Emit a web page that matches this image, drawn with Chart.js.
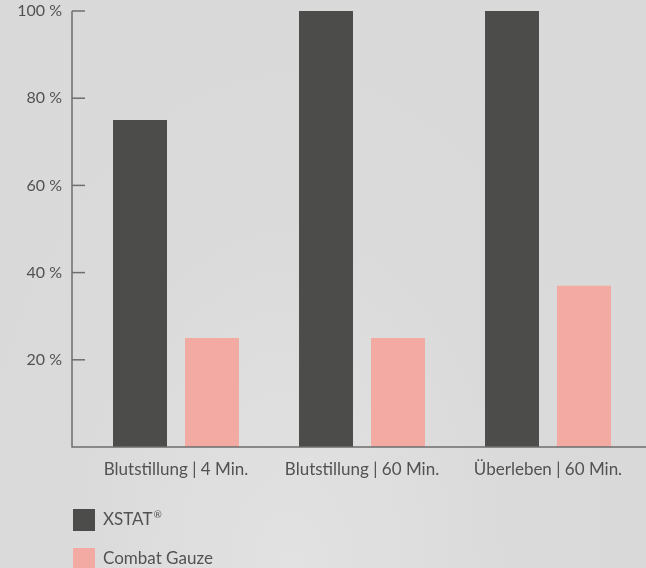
<!DOCTYPE html>
<html>
<head>
<meta charset="utf-8">
<script src="https://cdn.jsdelivr.net/npm/chart.js@4.4.0/dist/chart.umd.min.js"></script>
<style>
  html, body { margin: 0; padding: 0; background: #d9d9d9; }
  #wrap { width: 646px; height: 568px; position: relative;
    background: radial-gradient(ellipse at 45% 100%, #e2e2e2 0%, #dadada 45%, #d9d9d9 100%); }
</style>
</head>
<body>
<div id="wrap"><canvas id="c" width="646" height="568"></canvas></div>
<script>
const categories = ['Blutstillung | 4 Min.', 'Blutstillung | 60 Min.', 'Überleben | 60 Min.'];
const seriesNames = ['XSTAT®', 'Combat Gauze'];
const xstatValues = [75, 100, 100];
const gauzeValues = [25, 25, 37];
const yTicks = [0, 20, 40, 60, 80, 100];

const FONT = 'Lato, "Open Sans", sans-serif';
const TEXT = '#525252';
const AXIS = '#6e6e6e';
const colors = ['#4c4c4a', '#f2aaa2'];

const axesPlugin = {
  id: 'customAxes',
  afterDraw(chart) {
    const ctx = chart.ctx;
    const y = chart.scales.y;
    const area = chart.chartArea;
    const ax = area.left - 11;
    ctx.save();
    ctx.strokeStyle = AXIS;
    ctx.lineWidth = 1.5;
    ctx.beginPath();
    ctx.moveTo(ax, y.getPixelForValue(100));
    ctx.lineTo(ax, y.getPixelForValue(0));
    ctx.lineTo(chart.width, y.getPixelForValue(0));
    ctx.stroke();
    yTicks.forEach(v => {
      if (v === 0) return;
      const py = y.getPixelForValue(v);
      ctx.beginPath();
      ctx.moveTo(ax, py);
      ctx.lineTo(ax + 13, py);
      ctx.stroke();
    });
    // legend
    ctx.textBaseline = 'middle';
    ctx.textAlign = 'left';
    chart.data.datasets.forEach((ds, i) => {
      const top = 509 + i * 39;
      ctx.fillStyle = ds.backgroundColor;
      ctx.fillRect(73, top, 22, 22);
      ctx.fillStyle = TEXT;
      const label = ds.label;
      if (label.endsWith('®')) {
        const base = label.slice(0, -1);
        ctx.font = '17px ' + FONT;
        ctx.fillText(base, 103, top + 11);
        const w = ctx.measureText(base).width;
        ctx.font = '10px ' + FONT;
        ctx.fillText('®', 103 + w + 1, top + 6);
      } else {
        ctx.font = '17px ' + FONT;
        ctx.fillText(label, 103, top + 11);
      }
    });
    ctx.restore();
  }
};

new Chart(document.getElementById('c'), {
  type: 'bar',
  data: {
    labels: categories,
    datasets: [
      { label: seriesNames[0], data: xstatValues, backgroundColor: colors[0] },
      { label: seriesNames[1], data: gauzeValues, backgroundColor: colors[1] }
    ]
  },
  options: {
    responsive: false,
    animation: false,
    devicePixelRatio: 1,
    categoryPercentage: 0.774,
    barPercentage: 0.75,
    layout: { padding: { top: 11, right: 5, bottom: 81, left: 0 } },
    plugins: { legend: { display: false }, tooltip: { enabled: false } },
    scales: {
      x: {
        grid: { display: false, drawTicks: false },
        border: { display: false },
        ticks: { color: TEXT, font: { family: FONT, size: 17 }, padding: 12, maxRotation: 0 },
        afterFit(s) { s.height = 40; s.paddingLeft = 0; s.paddingRight = 0; }
      },
      y: {
        min: 0, max: 100,
        afterBuildTicks(s) { s.ticks = yTicks.map(v => ({ value: v })); },
        grid: { display: false, drawTicks: false },
        border: { display: false },
        ticks: { color: TEXT, font: { family: FONT, size: 16 }, padding: 21,
          callback: v => v === 0 ? '' : v + ' %' },
        afterFit(s) { s.width = 83; s.paddingTop = 0; s.paddingBottom = 0; }
      }
    }
  },
  plugins: [axesPlugin]
});
</script>
</body>
</html>
